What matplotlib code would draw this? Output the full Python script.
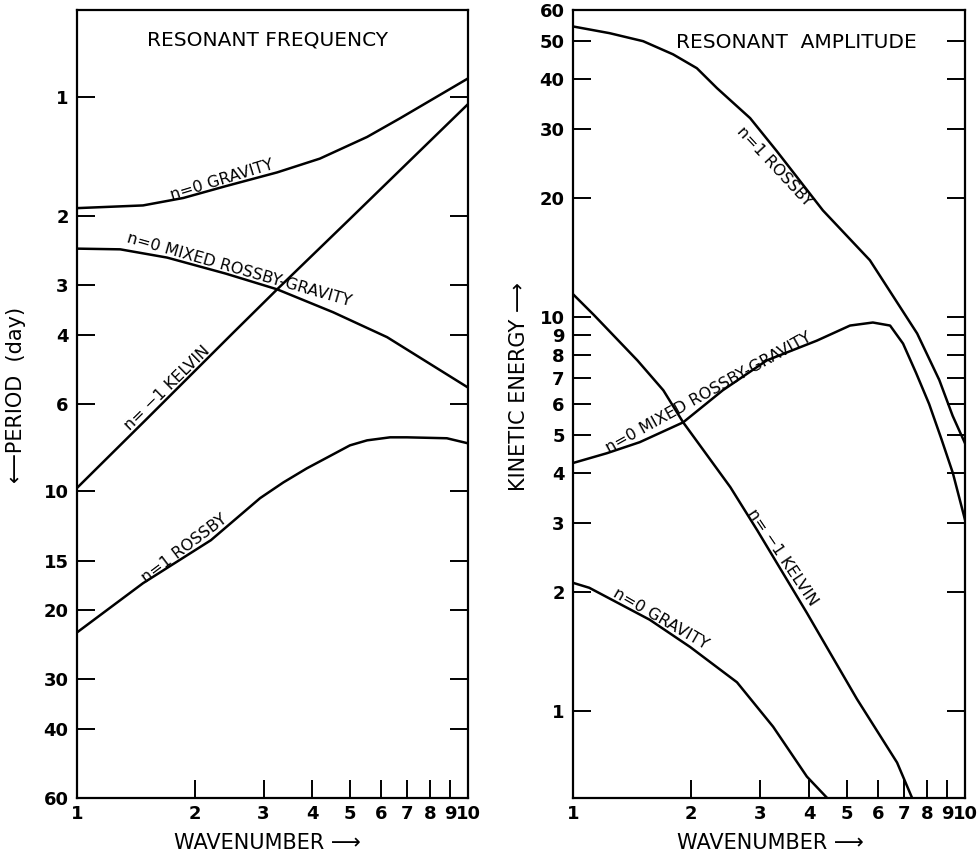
import matplotlib
matplotlib.use("Agg")
import numpy as np
from matplotlib import pyplot as plt
from matplotlib.ticker import FixedLocator, NullLocator, FixedFormatter

plt.rcParams['font.family'] = ['DejaVu Sans']

# ---- left panel: resonant frequency (period, days) ----
grav_k = [1, 1.475, 1.87, 2.4, 3.25, 4.18, 5.52, 6.7, 10]
grav_p = [1.91, 1.88, 1.80, 1.68, 1.55, 1.43, 1.26, 1.13, 0.895]

mrg_k = [1, 1.29, 1.70, 2.4, 3.25, 4.52, 6.21, 10]
mrg_p = [2.42, 2.43, 2.55, 2.8, 3.07, 3.51, 4.06, 5.45]

kel_k = [1, 1.5, 2.5, 3.25, 5, 10]
kel_p = [9.8, 6.58, 3.97, 3.07, 2.03, 1.04]

ros_k = [1, 1.475, 2.2, 2.94, 3.37, 3.87, 4.99, 5.52, 6.32, 6.98, 8.83, 10]
ros_p = [22.8, 17.1, 13.3, 10.4, 9.49, 8.74, 7.64, 7.42, 7.29, 7.29, 7.33, 7.55]

# ---- right panel: resonant amplitude (kinetic energy) ----
rros_k = [1, 1.24, 1.51, 1.80, 2.07, 2.33, 2.83, 3.31, 4.34, 5.72, 7.55, 8.6, 9.3, 10]
rros_e = [54.5, 52.4, 50.0, 46.3, 42.7, 38.0, 31.9, 26.3, 18.6, 13.9, 9.06, 6.9, 5.6, 4.77]

rmrg_k = [1, 1.22, 1.48, 1.91, 2.41, 3.12, 4.19, 5.09, 5.82, 6.44, 6.95, 7.5, 8.1, 8.7, 9.31, 10]
rmrg_e = [4.25, 4.50, 4.80, 5.39, 6.50, 7.74, 8.69, 9.49, 9.66, 9.49, 8.54, 7.2, 6.0, 4.9, 4.01, 3.05]

rkel_k = [1, 1.13, 1.46, 1.70, 1.91, 2.52, 2.95, 3.95, 5.30, 6.71, 7.33]
rkel_e = [11.4, 10.1, 7.74, 6.50, 5.39, 3.69, 2.87, 1.77, 1.07, 0.738, 0.60]

rgrav_k = [1, 1.10, 1.57, 1.99, 2.62, 3.24, 3.95, 4.45]
rgrav_e = [2.11, 2.05, 1.70, 1.45, 1.18, 0.91, 0.68, 0.60]

x_ticks = [1, 2, 3, 4, 5, 6, 7, 8, 9, 10]
left_yticks = [1, 2, 3, 4, 6, 10, 15, 20, 30, 40, 60]
right_yticks = [1, 2, 3, 4, 5, 6, 7, 8, 9, 10, 20, 30, 40, 50, 60]

W, H = 979, 858
fig = plt.figure(figsize=(W / 100, H / 100), dpi=100)
ax1 = fig.add_axes([77 / W, 1 - 798 / H, 391 / W, 788 / H])
ax2 = fig.add_axes([573 / W, 1 - 798 / H, 392 / W, 788 / H])

lw = 1.8
for ax in (ax1, ax2):
    ax.set_xscale('log')
    ax.set_yscale('log')
    ax.set_xlim(1, 10)
    for s in ax.spines.values():
        s.set_linewidth(1.6)
    ax.xaxis.set_major_locator(FixedLocator(x_ticks))
    ax.xaxis.set_major_formatter(FixedFormatter([str(v) for v in x_ticks]))
    ax.xaxis.set_minor_locator(NullLocator())
    ax.yaxis.set_minor_locator(NullLocator())
    ax.tick_params(axis='x', direction='in', length=13, width=1.4, top=False,
                   labelsize=13, pad=5)
    ax.tick_params(axis='y', direction='in', length=13, width=1.4, right=True,
                   labelsize=13, pad=6)


def curve_label(ax, xs, ys, k, text, angle, va='baseline', off=2):
    # anchor the label on the drawn curve at wavenumber k
    y = 10 ** np.interp(np.log10(k), np.log10(xs), np.log10(ys))
    a = np.deg2rad(angle)
    sgn = 1 if va == 'baseline' else -1
    ax.annotate(text, (k, y), xytext=(-np.sin(a) * off * sgn, np.cos(a) * off * sgn),
                textcoords='offset points', rotation=angle, rotation_mode='anchor',
                ha='center', va=va, fontsize=11.5)


# left panel
ax1.set_ylim(60, 0.6)
ax1.yaxis.set_major_locator(FixedLocator(left_yticks))
ax1.yaxis.set_major_formatter(FixedFormatter([str(v) for v in left_yticks]))
ax1.plot(grav_k, grav_p, 'k', lw=lw)
ax1.plot(mrg_k, mrg_p, 'k', lw=lw)
ax1.plot(kel_k, kel_p, 'k', lw=lw)
ax1.plot(ros_k, ros_p, 'k', lw=lw)

ax1.text(0.486, 0.962, 'RESONANT FREQUENCY', transform=ax1.transAxes,
         ha='center', va='center', fontsize=14.5)
curve_label(ax1, grav_k, grav_p, 2.38, 'n=0 GRAVITY', 17)
curve_label(ax1, mrg_k, mrg_p, 2.57, 'n=0 MIXED ROSSBY-GRAVITY', -16)
curve_label(ax1, kel_k, kel_p, 1.75, 'n= \u22121 KELVIN', 44.5)
curve_label(ax1, ros_k, ros_p, 1.93, 'n=1 ROSSBY', 37)

# right panel
ax2.set_ylim(0.6, 60)
ax2.yaxis.set_major_locator(FixedLocator(right_yticks))
ax2.yaxis.set_major_formatter(FixedFormatter([str(v) for v in right_yticks]))
ax2.plot(rros_k, rros_e, 'k', lw=lw)
ax2.plot(rmrg_k, rmrg_e, 'k', lw=lw)
ax2.plot(rkel_k, rkel_e, 'k', lw=lw)
ax2.plot(rgrav_k, rgrav_e, 'k', lw=lw)

ax2.text(0.569, 0.959, 'RESONANT  AMPLITUDE', transform=ax2.transAxes,
         ha='center', va='center', fontsize=14.5)
curve_label(ax2, rros_k, rros_e, 3.43, 'n=1 ROSSBY', -47, va='top', off=3)
curve_label(ax2, rmrg_k, rmrg_e, 2.26, 'n=0 MIXED ROSSBY-GRAVITY', 29)
curve_label(ax2, rkel_k, rkel_e, 3.3, 'n= \u22121 KELVIN', -56)
curve_label(ax2, rgrav_k, rgrav_e, 1.64, 'n=0 GRAVITY', -30)

for ax in (ax1, ax2):
    for t in ax.get_xticklabels() + ax.get_yticklabels():
        t.set_fontweight('bold')

# axis titles
fig.text(267 / W, 1 - 843 / H, 'WAVENUMBER \u27f6', ha='center', va='center', fontsize=15)
fig.text(770 / W, 1 - 843 / H, 'WAVENUMBER \u27f6', ha='center', va='center', fontsize=15)
fig.text(16 / W, 1 - 395 / H, '\u27f5PERIOD  (day)', rotation=90, ha='center',
         va='center', fontsize=15)
fig.text(519 / W, 1 - 387 / H, 'KINETIC ENERGY \u27f6', rotation=90, ha='center',
         va='center', fontsize=15)

fig.savefig('out.png', dpi=100)
